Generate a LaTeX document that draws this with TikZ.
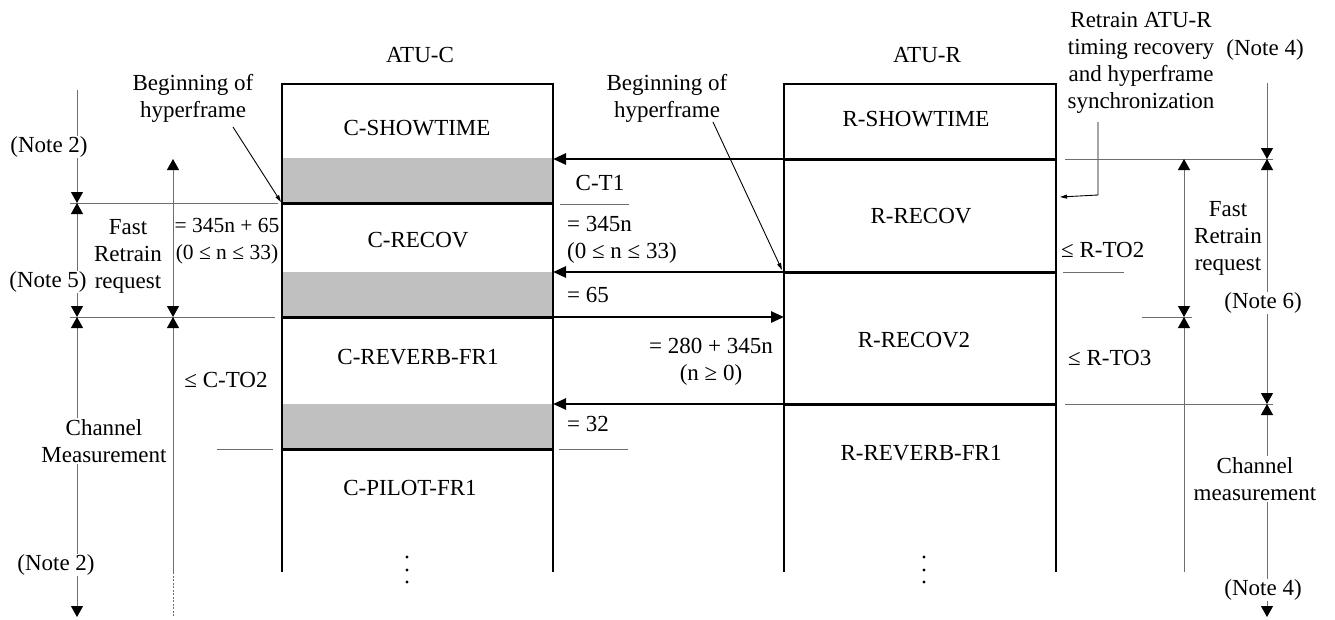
\documentclass[tikz,border=0pt]{standalone}
\usepackage{fontspec}
\setmainfont{Liberation Serif}
\usetikzlibrary{arrows.meta}
\definecolor{band}{RGB}{192,192,192}
\definecolor{thing}{RGB}{110,110,110}
\tikzset{
  dt/.tip={Triangle[length=11pt,width=12pt,color=black]},
  mt/.tip={Triangle[length=13pt,width=11pt]},
  st/.tip={Triangle[length=7pt,width=4pt]},
  boxln/.style={line width=2pt},
  divln/.style={line width=3pt},
  msg/.style={line width=2.6pt,-mt},
  thinln/.style={line width=1pt,thing},
  dimln/.style={line width=1pt,thing},
  ptr/.style={line width=0.9pt,-st},
  lbl/.style={inner sep=1pt,fill=white,align=center},
  txt/.style={inner sep=0pt,align=center},
}
\begin{document}
\begin{tikzpicture}[x=1pt,y=-1pt,font=\fontsize{23}{27}\selectfont]
\useasboundingbox (0,0) rectangle (1335,619);
\fill[white] (0,0) rectangle (1335,619);

% ---- column headings
\node[txt] (atuc) at (420,55) {ATU-C};
\node[txt] (atur) at (927,55) {ATU-R};

% ---- ATU-C column
\fill[band] (282,158) rectangle (553,203);
\fill[band] (282,272) rectangle (553,317);
\fill[band] (282,404) rectangle (553,449);
\draw[boxln] (282,572) -- (282,84) -- (553,84) -- (553,572);
\draw[divln] (282,203) -- (553,203);
\draw[divln] (282,317) -- (553,317);
\draw[divln] (282,449) -- (553,449);
\node[txt] (cshow) at (417,128) {C-SHOWTIME};
\node[txt] (crecov) at (418,240) {C-RECOV};
\node[txt] (crev) at (418,357) {C-REVERB-FR1};
\node[txt] (cpilot) at (410,488) {C-PILOT-FR1};
\foreach \yy in {557,570,582} \fill (407,\yy) circle (1.6);

% ---- ATU-R column
\draw[boxln] (784,572) -- (784,84) -- (1056,84) -- (1056,572);
\draw[divln] (784,159) -- (1056,159);
\draw[divln] (784,272) -- (1056,272);
\draw[divln] (784,404) -- (1056,404);
\node[txt] (rshow) at (916,119) {R-SHOWTIME};
\node[txt] (rrecov) at (921,216) {R-RECOV};
\node[txt] (rrecov2) at (914,340) {R-RECOV2};
\node[txt] (rrev) at (921,453) {R-REVERB-FR1};
\foreach \yy in {557,570,582} \fill (924,\yy) circle (1.6);

% ---- messages
\coordinate (r1) at (784,159); \coordinate (c1) at (553,159);
\coordinate (r2) at (784,272); \coordinate (c2) at (553,272);
\coordinate (c3) at (553,317); \coordinate (r3) at (784,317);
\coordinate (r4) at (784,404); \coordinate (c4) at (553,404);
\draw[msg] (r1) -- (c1);
\draw[msg] (r2) -- (c2);
\draw[msg] (c3) -- (r3);
\draw[msg] (r4) -- (c4);

\node[txt] (ct1) at (600,183) {C-T1};
\coordinate (ct1a) at (560,204); \coordinate (ct1b) at (629,204);
\draw[thinln] (ct1a) -- (ct1b);
\node[txt,anchor=west,align=left] (l345) at (567,240) {= 345n\\(0 ≤ n ≤ 33)};
\node[txt,anchor=west] (l65) at (567,295) {= 65};
\node[txt] (l280) at (711,362) {= 280 + 345n\\(n ≥ 0)};
\node[txt,anchor=west] (l32) at (567,424) {= 32};
\coordinate (l32a) at (559,449); \coordinate (l32b) at (628,449);
\draw[thinln] (l32a) -- (l32b);

% ---- "Beginning of hyperframe" pointers
\node[txt] (bhm) at (667,98) {Beginning of\\hyperframe};
\coordinate (bhm1) at (713,122); \coordinate (bhm2) at (782,270);
\draw[ptr] (bhm1) -- (bhm2);
\node[txt] (bhl) at (193,98) {Beginning of\\hyperframe};
\coordinate (bhl1) at (233,127); \coordinate (bhl2) at (281,202);
\draw[ptr] (bhl1) -- (bhl2);

% ---- left dimension lines
\coordinate (la0) at (77,90);  \coordinate (la1) at (77,203);
\coordinate (la2) at (77,317); \coordinate (la3) at (77,617);
\draw[thinln] (70,203) -- (278,203);
\draw[thinln] (70,317) -- (275,317);
\draw[thinln] (217,449) -- (273,449);
\draw[dimln,-dt] (la0) -- (la1);
\draw[dimln,dt-dt] (la1) -- (la2);
\draw[dimln,dt-dt] (la2) -- (la3);
\coordinate (lb1) at (173,159); \coordinate (lb2) at (173,317);
\coordinate (lb3) at (173,572); \coordinate (lb4) at (173,617);
\draw[dimln,dt-dt] (lb1) -- (lb2);
\draw[dimln,dt-] (lb2) -- (lb3);
\draw[dimln,dashed,dash pattern=on 2pt off 1.5pt] (lb3) -- (lb4);

\node[lbl] (n2a) at (49,147) {(Note 2)};
\node[lbl] (n5) at (48,282) {(Note 5)};
\node[txt] (frl) at (128,256) {Fast\\Retrain\\request};
\node[txt,font=\fontsize{21.5}{27}\selectfont] (d345) at (227,241) {= 345n + 65\\(0 ≤ n ≤ 33)};
\node[txt] (cto2) at (226,380) {≤ C-TO2};
\node[lbl] (chm) at (104,441) {Channel\\Measurement};
\node[lbl] (n2b) at (56,565) {(Note 2)};

% ---- right side
\node[txt] (retr) at (1141,63) {Retrain ATU-R\\timing recovery\\and hyperframe\\synchronization};
\coordinate (hk1) at (1098,122); \coordinate (hk2) at (1098,195); \coordinate (hk3) at (1060,197);
\draw[line width=0.9pt,-st] (hk1) -- (hk2) -- (hk3);

\draw[thinln] (1065,159) -- (1273,159);
\draw[thinln] (1065,404) -- (1273,404);
\draw[thinln] (1142,317) -- (1192,317);
\draw[thinln] (1063,272) -- (1124,272);

\coordinate (ra0) at (1267,83);  \coordinate (ra1) at (1267,159);
\coordinate (ra2) at (1267,404); \coordinate (ra3) at (1267,617);
\draw[dimln,-dt] (ra0) -- (ra1);
\draw[dimln,dt-dt] (ra1) -- (ra2);
\draw[dimln,dt-dt] (ra2) -- (ra3);
\coordinate (rb1) at (1184,159); \coordinate (rb2) at (1184,317); \coordinate (rb3) at (1184,572);
\draw[dimln,dt-dt] (rb1) -- (rb2);
\draw[dimln,dt-] (rb2) -- (rb3);

\node[txt] (n4a) at (1265,50) {(Note 4)};
\node[lbl] (n6) at (1263,303) {(Note 6)};
\node[txt] (frr) at (1228,238) {Fast\\Retrain\\request};
\node[txt,anchor=west] (rto2) at (1061,250) {≤ R-TO2};
\node[txt,anchor=west] (rto3) at (1068,358) {≤ R-TO3};
\node[lbl] (chr) at (1255,479) {Channel\\measurement};
\node[lbl] (n4b) at (1263,590) {(Note 4)};
\end{tikzpicture}
\end{document}
